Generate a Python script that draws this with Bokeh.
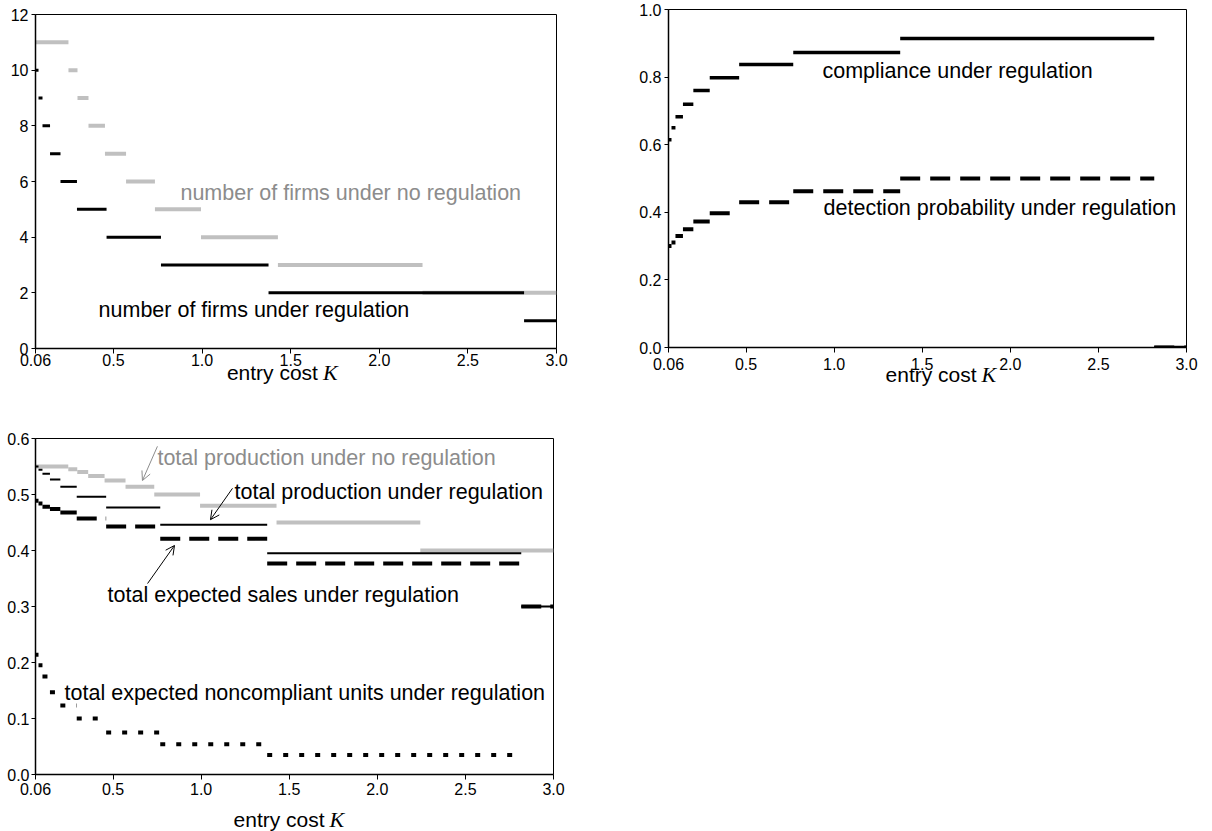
from bokeh.plotting import figure
from bokeh.models import (Range1d, FixedTicker, Label, Arrow, OpenHead,
                          ColumnDataSource, PrintfTickFormatter)
from bokeh.core.properties import value
from bokeh.layouts import column, row
from bokeh.embed import file_html
from bokeh.resources import INLINE

# ---------------- data ----------------
# entry-cost thresholds where the number of firms changes
K_EDGES_REG = [0.06, 0.077, 0.0995, 0.142, 0.201, 0.294, 0.461, 0.768, 1.375, 2.817, 3.0]
N_FIRMS_REG = [10, 9, 8, 7, 6, 5, 4, 3, 2, 1]
K_EDGES_NOREG = [0.06, 0.246, 0.297, 0.359, 0.452, 0.571, 0.734, 0.994, 1.428, 2.244, 3.0]
N_FIRMS_NOREG = [11, 10, 9, 8, 7, 6, 5, 4, 3, 2]

COMPLIANCE_REG = [0.615, 0.65, 0.683, 0.72, 0.76, 0.798, 0.837, 0.873, 0.914, 0.0]
DETECTION_REG = [0.30, 0.311, 0.33, 0.35, 0.373, 0.397, 0.43, 0.462, 0.50, 0.0]

PROD_NOREG = [0.550, 0.545, 0.540, 0.533, 0.525, 0.514, 0.500, 0.480, 0.450, 0.400]
PROD_REG = [0.550, 0.544, 0.537, 0.527, 0.514, 0.496, 0.477, 0.446, 0.395, 0.300]
SALES_REG = [0.489, 0.484, 0.478, 0.474, 0.468, 0.457, 0.443, 0.421, 0.377, 0.300]
NONCOMP_REG = [0.214, 0.195, 0.175, 0.147, 0.123, 0.100, 0.075, 0.054, 0.035, float("nan")]

X_TICKS = [0.06, 0.5, 1.0, 1.5, 2.0, 2.5, 3.0]
X_TICK_LABELS = ["0.06", "0.5", "1.0", "1.5", "2.0", "2.5", "3.0"]
X_TITLE = "entry cost"
X_TITLE_VAR = "K"

FONT = "Liberation Sans"
GRAY_LINE = "#c0c0c0"
GRAY_TEXT = "#8c8c8c"
NOTE_SIZE = "21.5px"


def make_fig(width, height, mbl, mbr, mbt, mbb, yr, yticks, yfmt, xstand):
    p = figure(width=width, height=height, x_range=Range1d(0.06, 3.0),
               y_range=Range1d(*yr), output_backend="svg", toolbar_location=None,
               min_border_left=mbl, min_border_right=mbr,
               min_border_top=mbt, min_border_bottom=mbb)
    p.grid.visible = False
    p.outline_line_color = "black"
    p.outline_line_width = 1
    p.background_fill_color = "white"
    p.border_fill_color = "white"
    p.xaxis.ticker = FixedTicker(ticks=X_TICKS)
    p.xaxis.major_label_overrides = {t: l for t, l in zip(X_TICKS, X_TICK_LABELS)}
    p.yaxis.ticker = FixedTicker(ticks=yticks)
    if yfmt:
        p.yaxis.formatter = PrintfTickFormatter(format=yfmt)
    for ax in (p.xaxis, p.yaxis):
        ax.axis_line_color = "black"
        ax.axis_line_width = 1.5
        ax.major_tick_line_color = "black"
        ax.major_tick_out = 5
        ax.major_tick_in = 0
        ax.minor_tick_line_color = None
        ax.major_label_text_font = FONT
        ax.major_label_text_font_size = "16px"
        ax.major_label_text_color = "black"
    p.xaxis.major_label_standoff = xstand
    p.yaxis.major_label_standoff = 3
    p.yaxis.major_tick_out = 4
    return p


def title_fig(width, height, x_k, y_px, margin_top=0):
    # the frame of this strip is aligned by the layout with the plot above it,
    # so its x range is the same entry-cost range
    t = figure(width=width, height=height, x_range=Range1d(0.06, 3.0),
               y_range=Range1d(0, height), output_backend="svg",
               toolbar_location=None, x_axis_type=None, y_axis_type=None,
               min_border_left=0, min_border_right=0,
               min_border_top=0, min_border_bottom=0)
    t.grid.visible = False
    t.outline_line_color = None
    t.background_fill_alpha = 0
    t.border_fill_alpha = 0
    t.text(x=[x_k], y=[y_px], text=[X_TITLE], text_font=value(FONT),
           text_font_size="21px", text_color="black", text_baseline="middle",
           text_align="left")
    t.text(x=[x_k], y=[y_px], text=[X_TITLE_VAR], x_offset=96,
           text_font=value("Liberation Serif"), text_font_style="italic",
           text_font_size="22px", text_color="black", text_baseline="middle",
           text_align="left")
    if margin_top:
        t.margin = (margin_top, 0, 0, 0)
    return t


def steps(p, edges, vals, **kw):
    src = ColumnDataSource(dict(x0=edges[:-1], x1=edges[1:], y=vals))
    p.segment(x0="x0", y0="y", x1="x1", y1="y", source=src, line_cap="butt", **kw)


def note(p, x, y, text, color="black", size=NOTE_SIZE):
    p.add_layout(Label(x=x, y=y, text=text, text_font=FONT, text_font_size=size,
                       text_color=color, text_baseline="middle", text_align="left"))


def arrow(p, xs, ys, xe, ye, color):
    p.add_layout(Arrow(end=OpenHead(size=9, line_color=color, line_width=1),
                       x_start=xs, y_start=ys, x_end=xe, y_end=ye,
                       line_color=color, line_width=1))


# ---------------- panel 1: number of firms ----------------
p1 = make_fig(575, 372, 35, 19, 14, 24, (0, 12), list(range(0, 13, 2)), None, 0)
steps(p1, K_EDGES_NOREG, N_FIRMS_NOREG, line_color=GRAY_LINE, line_width=4)
steps(p1, K_EDGES_REG, N_FIRMS_REG, line_color="black", line_width=3)
note(p1, 0.878, 5.60, "number of firms under no regulation", GRAY_TEXT)
note(p1, 0.416, 1.37, "number of firms under regulation")
t1 = title_fig(575, 30, 1.14, 18, margin_top=-12)

# ---------------- panel 2: compliance & detection ----------------
p2 = make_fig(626, 375, 93, 15, 9, 28, (0, 1.0),
              [0.0, 0.2, 0.4, 0.6, 0.8, 1.0], "%.1f", 5)
steps(p2, K_EDGES_REG, COMPLIANCE_REG, line_color="black", line_width=3.5)
steps(p2, K_EDGES_REG, DETECTION_REG, line_color="black", line_width=4,
      line_dash="20 10")
note(p2, 0.934, 0.817, "compliance under regulation")
note(p2, 0.94, 0.414, "detection probability under regulation")
t2 = title_fig(626, 30, 1.292, 19, margin_top=-12)

# ---------------- panel 3: production, sales, noncompliance ----------------
p3 = make_fig(575, 407, 35, 22, 45, 26, (0, 0.6),
              [0.0, 0.1, 0.2, 0.3, 0.4, 0.5, 0.6], "%.1f", 3)
p3.yaxis.major_label_standoff = 2
steps(p3, K_EDGES_NOREG, PROD_NOREG, line_color=GRAY_LINE, line_width=4)
steps(p3, K_EDGES_REG, PROD_REG, line_color="black", line_width=2)
steps(p3, K_EDGES_REG, SALES_REG, line_color="black", line_width=4, line_dash="20 9")
steps(p3, K_EDGES_REG, NONCOMP_REG, line_color="black", line_width=4, line_dash="5 11")
note(p3, 0.752, 0.566, "total production under no regulation", GRAY_TEXT)
arrow(p3, 0.752, 0.586, 0.667, 0.525, "#8c8c8c")
note(p3, 1.19, 0.505, "total production under regulation")
arrow(p3, 1.178, 0.511, 1.053, 0.455, "black")
note(p3, 0.469, 0.320, "total expected sales under regulation")
arrow(p3, 0.696, 0.341, 0.849, 0.409, "black")
note(p3, 0.225, 0.145, "total expected noncompliant units under regulation")
t3 = title_fig(575, 31, 1.184, 12)

layout = column(row(column(p1, t1), column(p2, t2)), column(p3, t3))
open("out.html", "w").write(file_html(layout, INLINE))
